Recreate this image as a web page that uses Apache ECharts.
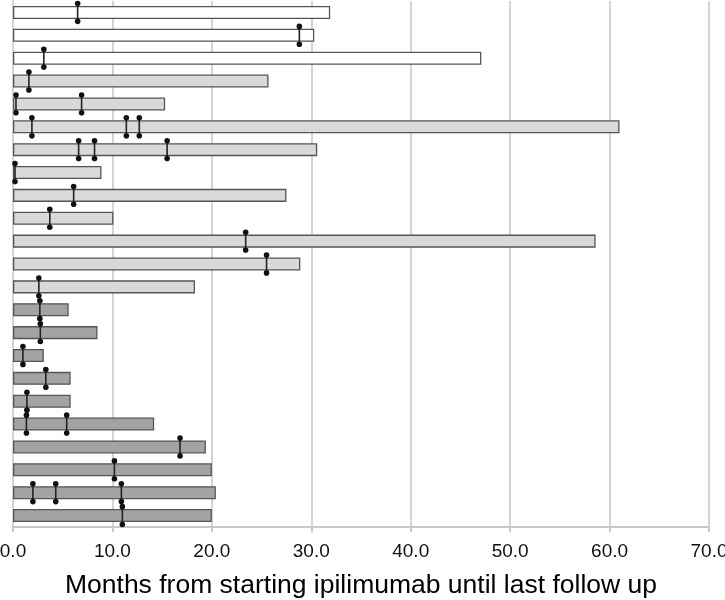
<!DOCTYPE html>
<html>
<head>
<meta charset="utf-8">
<script src="https://cdn.jsdelivr.net/npm/echarts@6/dist/echarts.min.js"></script>
<style>html,body{margin:0;padding:0;background:#fff}#c{width:725px;height:600px}</style>
</head>
<body>
<div id="c"></div>
<script>
// Patients (top to bottom)
const patients = ['1','2','3','4','5','6','7','8','9','10','11','12','13','14','15','16','17','18','19','20','21','22','23'];
// Months of follow up
const followUp = [31.9, 30.3, 47.1, 25.7, 15.3, 61.0, 30.6, 8.9, 27.5, 10.1, 58.6, 28.9, 18.3,
                  5.6, 8.5, 3.1, 5.8, 5.8, 14.2, 19.4, 20.0, 20.4, 20.0];
// Group of each patient
const groups = ['A','A','A','B','B','B','B','B','B','B','B','B','B',
                'C','C','C','C','C','C','C','C','C','C'];
// Event times (months) per patient
const events = [[6.5],[28.8],[3.1],[1.6],[0.3,6.9],[1.9,11.4,12.7],[6.6,8.2,15.5],[0.2],[6.1],[3.7],[23.4],[25.5],[2.6],
                [2.7],[2.75],[1.0],[3.3],[1.4],[1.35,5.4],[16.8],[10.2],[2.0,4.3,10.9],[11.0]];
const xTicks = [0,10,20,30,40,50,60,70];

const groupColor = {A:'#ffffff', B:'#d9d9d9', C:'#a3a3a3'};
const markerData = [];
events.forEach((arr, i) => arr.forEach(v => markerData.push([v, i])));

const chart = echarts.init(document.getElementById('c'));
chart.setOption({
  animation: false,
  grid: {left: 13, right: 16, top: 1, bottom: 73, containLabel: false, outerBoundsMode: 'none'},
  xAxis: {
    type: 'value', min: xTicks[0], max: xTicks[xTicks.length-1], interval: 10,
    axisLine: {show: true, lineStyle: {color: '#c8c8c8', width: 2}},
    axisTick: {show: true, length: 5, lineStyle: {color: '#c8c8c8', width: 2}},
    axisLabel: {formatter: v => v.toFixed(1), fontSize: 19, color: '#111', margin: 15, fontFamily: 'Liberation Sans'},
    splitLine: {show: true, lineStyle: {color: '#d4d4d4', width: 2}},
    name: 'Months from starting ipilimumab until last follow up',
    nameLocation: 'middle', nameGap: 59, nameMoveOverlap: false,
    nameTextStyle: {fontSize: 26.5, color: '#000', fontFamily: 'Liberation Sans', verticalAlign: 'middle'}
  },
  yAxis: {
    type: 'category', data: patients, inverse: true,
    axisLine: {show: true, lineStyle: {color: '#d4d4d4', width: 2}},
    axisTick: {show: false}, axisLabel: {show: false}, splitLine: {show: false}
  },
  series: [
    {
      type: 'bar', data: followUp, barWidth: '57%',
      itemStyle: {
        color: p => groupColor[groups[p.dataIndex]],
        borderColor: '#555', borderWidth: 1.3
      }
    },
    {
      type: 'custom', data: markerData,
      renderItem: (params, api) => {
        const c = api.coord([api.value(0), api.value(1)]);
        const h = api.size([0, 1])[1] * 0.39;
        return {
          type: 'group',
          children: [
            {type: 'line', shape: {x1: c[0], y1: c[1]-h, x2: c[0], y2: c[1]+h}, style: {stroke: '#222', lineWidth: 1.6}},
            {type: 'circle', shape: {cx: c[0], cy: c[1]-h, r: 2.8}, style: {fill: '#111'}},
            {type: 'circle', shape: {cx: c[0], cy: c[1]+h, r: 2.8}, style: {fill: '#111'}}
          ]
        };
      },
      z: 5
    }
  ]
});
</script>
</body>
</html>
